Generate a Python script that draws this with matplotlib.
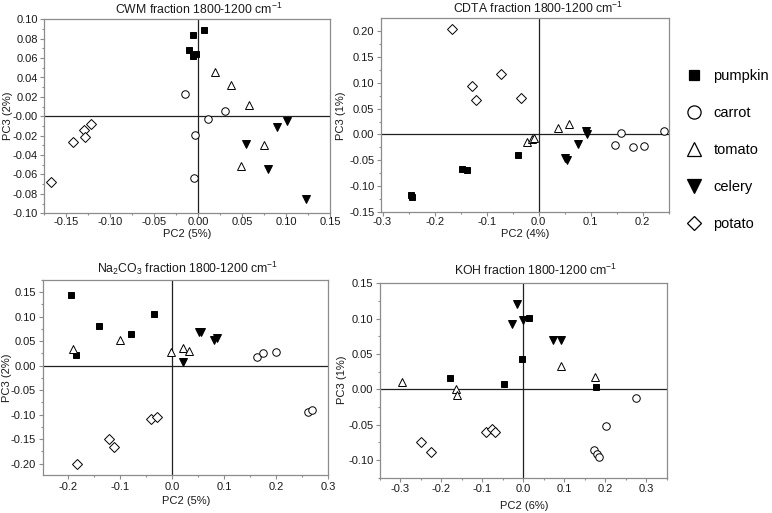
import matplotlib
matplotlib.use("Agg")
import matplotlib.pyplot as plt
from matplotlib.lines import Line2D
from matplotlib.ticker import MultipleLocator, FormatStrFormatter

plt.rcParams['font.family'] = ['Liberation Sans', 'DejaVu Sans']
plt.rcParams['mathtext.default'] = 'regular'

species = ["pumpkin", "carrot", "tomato", "celery", "potato"]

# ---- CWM fraction (PC2, PC3) ----
cwm_pc2 = dict(
    pumpkin=[-0.0064, 0.0064, -0.0106, -0.0064, -0.0026],
    carrot=[-0.0151, 0.0309, 0.0113, -0.0038, -0.0045],
    tomato=[0.0189, 0.0369, 0.0577, 0.0746, 0.0483],
    celery=[0.1010, 0.0893, 0.0547, 0.0792, 0.1226],
    potato=[-0.1218, -0.1294, -0.1290, -0.1426, -0.1670],
)
cwm_pc3 = dict(
    pumpkin=[0.0835, 0.0886, 0.0687, 0.0618, 0.0646],
    carrot=[0.0233, 0.0057, -0.0025, -0.0191, -0.0634],
    tomato=[0.0460, 0.0322, 0.0116, -0.0297, -0.0517],
    celery=[-0.0049, -0.0111, -0.0283, -0.0541, -0.0851],
    potato=[-0.0077, -0.0139, -0.0218, -0.0262, -0.0679],
)

# ---- CDTA fraction ----
cdta_pc2 = dict(
    pumpkin=[-0.2460, -0.2428, -0.1477, -0.1381, -0.0405],
    carrot=[0.1459, 0.1590, 0.1820, 0.2017, 0.2408],
    tomato=[-0.0225, -0.0130, -0.0090, 0.0373, 0.0578],
    celery=[0.0912, 0.0931, 0.0751, 0.0514, 0.0539],
    potato=[-0.1657, -0.1285, -0.1207, -0.0732, -0.0334],
)
cdta_pc3 = dict(
    pumpkin=[-0.1160, -0.1205, -0.0658, -0.0690, -0.0387],
    carrot=[-0.0193, 0.0025, -0.0250, -0.0226, 0.0069],
    tomato=[-0.0143, -0.0090, -0.0060, 0.0134, 0.0211],
    celery=[0.0063, 0.0018, -0.0188, -0.0452, -0.0484],
    potato=[0.2032, 0.0938, 0.0674, 0.1157, 0.0707],
)

# ---- Na2CO3 fraction ----
na_pc2 = dict(
    pumpkin=[-0.1949, -0.1853, -0.1410, -0.0795, -0.0346],
    carrot=[0.1635, 0.1737, 0.2000, 0.2615, 0.2692],
    tomato=[-0.1904, -0.1006, -0.0032, 0.0212, 0.0327],
    celery=[0.0205, 0.0519, 0.0551, 0.0801, 0.0865],
    potato=[-0.1840, -0.1212, -0.1122, -0.0410, -0.0301],
)
na_pc3 = dict(
    pumpkin=[0.1446, 0.0213, 0.0819, 0.0642, 0.1050],
    carrot=[0.0172, 0.0267, 0.0281, -0.0939, -0.0911],
    tomato=[0.0349, 0.0526, 0.0287, 0.0356, 0.0308],
    celery=[0.0069, 0.0683, 0.0696, 0.0526, 0.0567],
    potato=[-0.2001, -0.1490, -0.1654, -0.1095, -0.1048],
)

# ---- KOH fraction ----
koh_pc2 = dict(
    pumpkin=[-0.1798, -0.0462, -0.0040, 0.0138, 0.1781],
    carrot=[0.1725, 0.1798, 0.1846, 0.2024, 0.2740],
    tomato=[-0.2972, -0.1636, -0.1619, 0.0931, 0.1741],
    celery=[-0.0162, -0.0283, -0.0016, 0.0729, 0.0931],
    potato=[-0.2510, -0.2267, -0.0915, -0.0761, -0.0696],
)
koh_pc3 = dict(
    pumpkin=[0.0156, 0.0080, 0.0425, 0.1014, 0.0038],
    carrot=[-0.0863, -0.0915, -0.0962, -0.0524, -0.0120],
    tomato=[0.0108, 0.0000, -0.0080, 0.0330, 0.0179],
    celery=[0.1203, 0.0925, 0.0981, 0.0693, 0.0693],
    potato=[-0.0750, -0.0882, -0.0599, -0.0561, -0.0599],
)

styles = dict(
    pumpkin=dict(marker='s', mfc='black', mec='black', ms=4.6),
    carrot=dict(marker='o', mfc='white', mec='black', ms=5.4),
    tomato=dict(marker='^', mfc='white', mec='black', ms=6.0),
    celery=dict(marker='v', mfc='black', mec='black', ms=6.0),
    potato=dict(marker='D', mfc='white', mec='black', ms=4.6),
)

W, H = 772, 513
fig = plt.figure(figsize=(W / 100, H / 100), dpi=100)


def px_axes(l, r, t, b):
    return fig.add_axes([l / W, 1 - b / H, (r - l) / W, (b - t) / H])


panels = [
    dict(box=(44.3, 330.3, 19.3, 213.3), xs=cwm_pc2, ys=cwm_pc3,
         title='CWM fraction 1800-1200 cm$^{-1}$', xl='PC2 (5%)', yl='PC3 (2%)',
         xlim=(-0.175, 0.15), ylim=(-0.10, 0.10), xmaj=0.05, ymaj=0.02,
         xfmt='%.2f', yfmt='%.2f', tpos=(199, 9), xlpos=(187, 234), ylpos=(8, 116),
         xpad=0.4),
    dict(box=(381.0, 668.7, 18.3, 212.3), xs=cdta_pc2, ys=cdta_pc3,
         title='CDTA fraction 1800-1200 cm$^{-1}$', xl='PC2 (4%)', yl='PC3 (1%)',
         xlim=(-0.303, 0.25), ylim=(-0.15, 0.224), xmaj=0.1, ymaj=0.05,
         xfmt='%.1f', yfmt='%.2f', tpos=(538, 8), xlpos=(525, 234), ylpos=(341, 116),
         xpad=0.6),
    dict(box=(42.7, 328.3, 280.0, 474.7), xs=na_pc2, ys=na_pc3,
         title='Na$_2$CO$_3$ fraction 1800-1200 cm$^{-1}$', xl='PC2 (5%)', yl='PC3 (2%)',
         xlim=(-0.249, 0.30), ylim=(-0.2225, 0.175), xmaj=0.1, ymaj=0.05,
         xfmt='%.1f', yfmt='%.2f', tpos=(188, 268), xlpos=(186, 501), ylpos=(7, 378),
         xpad=2.8),
    dict(box=(380.0, 666.7, 283.3, 477.7), xs=koh_pc2, ys=koh_pc3,
         title='KOH fraction 1800-1200 cm$^{-1}$', xl='PC2 (6%)', yl='PC3 (1%)',
         xlim=(-0.35, 0.35), ylim=(-0.125, 0.15), xmaj=0.1, ymaj=0.05,
         xfmt='%.1f', yfmt='%.2f', tpos=(536, 270), xlpos=(524, 506), ylpos=(342, 380),
         xpad=1.9),
]

spine_col = '#8c8c8c'
text_col = '#1a1a1a'
for p in panels:
    l, r, t, b = p['box']
    ax = px_axes(l, r, t, b)
    ax.axhline(0, color='#202020', lw=0.9, zorder=1)
    ax.axvline(0, color='#202020', lw=0.9, zorder=1)
    for s in species:
        st = styles[s]
        ax.plot(p['xs'][s], p['ys'][s], ls='none', marker=st['marker'],
                mfc=st['mfc'], mec=st['mec'], ms=st['ms'], mew=0.7, zorder=3)
    ax.set_xlim(*p['xlim'])
    ax.set_ylim(*p['ylim'])
    ax.xaxis.set_major_locator(MultipleLocator(p['xmaj']))
    ax.xaxis.set_minor_locator(MultipleLocator(p['xmaj'] / 2))
    ax.yaxis.set_major_locator(MultipleLocator(p['ymaj']))
    ax.yaxis.set_minor_locator(MultipleLocator(p['ymaj'] / 2))
    ax.xaxis.set_major_formatter(FormatStrFormatter(p['xfmt']))
    ax.yaxis.set_major_formatter(FormatStrFormatter(p['yfmt']))
    for sp in ax.spines.values():
        sp.set_color(spine_col)
        sp.set_linewidth(0.9)
    ax.tick_params(which='both', direction='out', colors=spine_col,
                   labelcolor=text_col, labelsize=8, top=False, right=False, width=0.8)
    ax.tick_params(which='major', length=2.6)
    ax.tick_params(which='minor', length=1.6)
    ax.tick_params(axis='x', which='major', pad=p['xpad'])
    ax.tick_params(axis='y', which='major', pad=2.2)

    w, h = r - l, b - t
    tx, ty = p['tpos']
    ax.text((tx - l) / w, (b - ty) / h, p['title'], transform=ax.transAxes,
            ha='center', va='center', fontsize=8.8, color=text_col)
    ax.set_xlabel(p['xl'], fontsize=8, color=text_col)
    ax.xaxis.label.set_va('center')
    xx, xy = p['xlpos']
    ax.xaxis.set_label_coords((xx - l) / w, (b - xy) / h)
    ax.set_ylabel(p['yl'], fontsize=8, color=text_col)
    ax.yaxis.label.set_va('center')
    yx, yy = p['ylpos']
    ax.yaxis.set_label_coords((yx - l) / w, (b - yy) / h)

handles = []
for s in species:
    st = styles[s]
    ms = 7 if st['marker'] in ('s', 'D') else 9.5
    handles.append(Line2D([], [], ls='none', marker=st['marker'], mfc=st['mfc'],
                          mec=st['mec'], ms=ms, mew=0.9))
fig.legend(handles, species, loc='upper left', bbox_to_anchor=(679 / W, 1 - 62 / H),
           frameon=False, fontsize=10.5, labelspacing=1.58, handletextpad=0.85,
           handlelength=1.0, borderpad=0)

fig.savefig('out.png', dpi=100)
